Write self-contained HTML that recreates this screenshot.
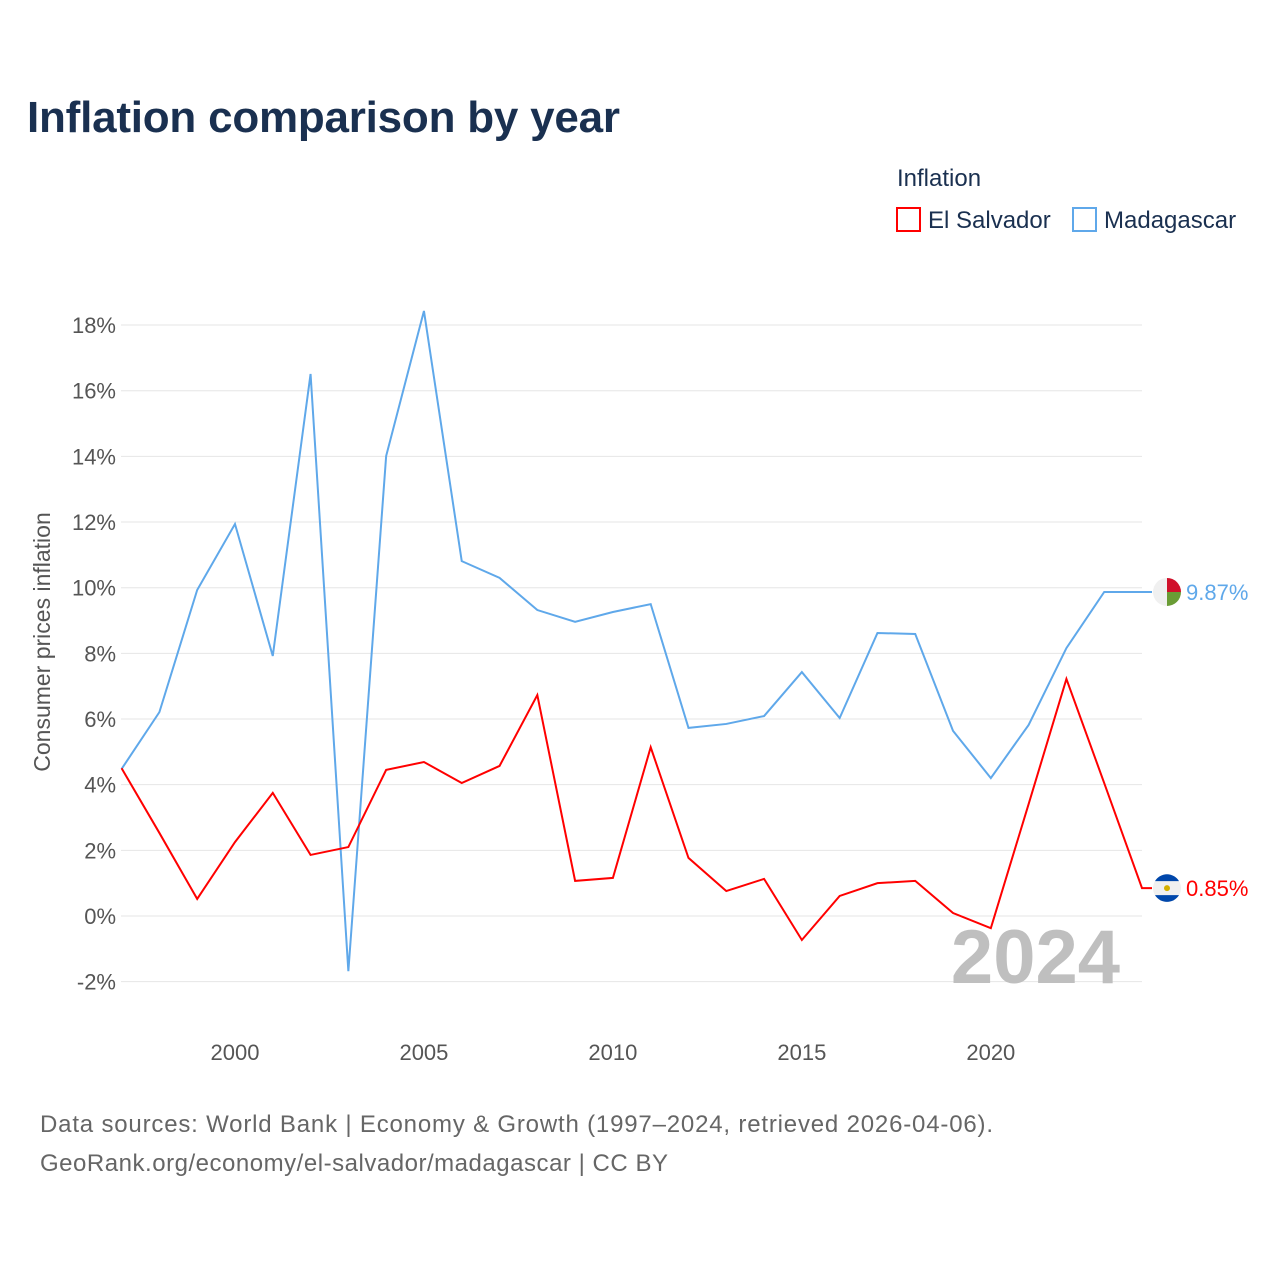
<!DOCTYPE html>
<html><head><meta charset="utf-8"><style>
body{margin:0;background:#fff;font-family:"Liberation Sans",sans-serif}
svg text{font-family:"Liberation Sans",sans-serif}
</style></head><body>
<svg id="chart" width="1280" height="1280" viewBox="0 0 1280 1280">
<text x="27" y="132" font-size="44" font-weight="bold" fill="#1a3050" textLength="593">Inflation comparison by year</text>
<text x="897" y="186" font-size="24" fill="#1a3050">Inflation</text>
<g><rect x="897" y="208" width="23" height="23" fill="none" stroke="#ff0000" stroke-width="2"/><text x="928" y="228" font-size="24" fill="#1a3050">El Salvador</text></g>
<g><rect x="1073" y="208" width="23" height="23" fill="none" stroke="#5fa8ea" stroke-width="2"/><text x="1104" y="228" font-size="24" fill="#1a3050">Madagascar</text></g>
<g id="grid"></g><g id="yticks"></g><g id="xticks"></g>
<text transform="translate(50,642) rotate(-90)" text-anchor="middle" font-size="23" fill="#555">Consumer prices inflation</text>
<text x="1120" y="983" text-anchor="end" font-size="76" font-weight="bold" fill="#bfbfbf">2024</text>
<g id="series"></g>
<text x="40" y="1132" font-size="24" fill="#666" textLength="953">Data sources: World Bank | Economy &amp; Growth (1997–2024, retrieved 2026-04-06).</text>
<text x="40" y="1171" font-size="24" fill="#666" textLength="628">GeoRank.org/economy/el-salvador/madagascar | CC BY</text>
</svg>
<script>
const years=[1997,1998,1999,2000,2001,2002,2003,2004,2005,2006,2007,2008,2009,2010,2011,2012,2013,2014,2015,2016,2017,2018,2019,2020,2021,2022,2023,2024];
const madagascar=[4.48,6.21,9.93,11.94,7.92,16.51,-1.68,14.01,18.43,10.81,10.3,9.32,8.96,9.26,9.5,5.73,5.85,6.09,7.43,6.03,8.62,8.59,5.64,4.2,5.82,8.16,9.87,9.87];
const elSalvador=[4.5,2.53,0.52,2.25,3.75,1.86,2.1,4.45,4.69,4.05,4.57,6.73,1.07,1.16,5.14,1.77,0.76,1.13,-0.73,0.61,1.0,1.07,0.09,-0.37,3.41,7.22,4.05,0.85];
const yTickVals=[-2,0,2,4,6,8,10,12,14,16,18];
const xTickVals=[2000,2005,2010,2015,2020];
const NS='http://www.w3.org/2000/svg';
const X=y=>121.6+(y-1997)*(1142-121.6)/27;
const Y=v=>916-v*32.83;
function mk(t,a,p){const e=document.createElementNS(NS,t);for(const k in a)e.setAttribute(k,a[k]);p.appendChild(e);return e;}
const g=document.getElementById('grid'),yt=document.getElementById('yticks'),xt=document.getElementById('xticks'),s=document.getElementById('series');
yTickVals.forEach(v=>{
 const l=mk('line',{x1:121,x2:1142,y1:Y(v),y2:Y(v),stroke:'#e6e6e6','stroke-width':1},g);
 
 
 const t=mk('text',{x:116,y:Y(v)+8,'text-anchor':'end','font-size':22,fill:'#555'},yt);
 t.textContent=v+'%';
 
 
});
xTickVals.forEach(v=>{
 const t=mk('text',{x:X(v),y:1060,'text-anchor':'middle','font-size':22,fill:'#555'},xt);
 t.textContent=v;
 
 
});
function line(vals,color,name){
 const pts=vals.map((v,i)=>X(years[i])+','+Y(v)).join(' ');
 const last=vals[vals.length-1];
 const pl=mk('polyline',{points:pts+' '+(X(2024)+10)+','+Y(last),fill:'none',stroke:color,'stroke-width':2},s);
 
 
 const c=mk('circle',{cx:1167,cy:Y(last),r:14,fill:'#f0f0f0'},s);
 
 
 const t=mk('text',{x:1186,y:Y(last)+8,'font-size':22,fill:color},s);
 t.textContent=last.toFixed(2)+'%';
 
 
 return c;
}
line(madagascar,'#5fa8ea','madagascar');
line(elSalvador,'#ff0000','el-salvador');
const ym=Y(madagascar[madagascar.length-1]), ye=Y(elSalvador[elSalvador.length-1]);
mk('path',{d:`M1167 ${ym-14} A14 14 0 0 1 1181 ${ym} L1167 ${ym} Z`,fill:'#d0102a'},s);
mk('path',{d:`M1167 ${ym} L1181 ${ym} A14 14 0 0 1 1167 ${ym+14} Z`,fill:'#6a9c35'},s);
mk('path',{d:`M1155 ${ye-7} A14 14 0 0 1 1179 ${ye-7} Z`,fill:'#0047ab'},s);
mk('path',{d:`M1155 ${ye+7} A14 14 0 0 0 1179 ${ye+7} Z`,fill:'#0047ab'},s);
mk('circle',{cx:1167,cy:ye,r:3,fill:'#d4b000'},s);
</script>
</body></html>
